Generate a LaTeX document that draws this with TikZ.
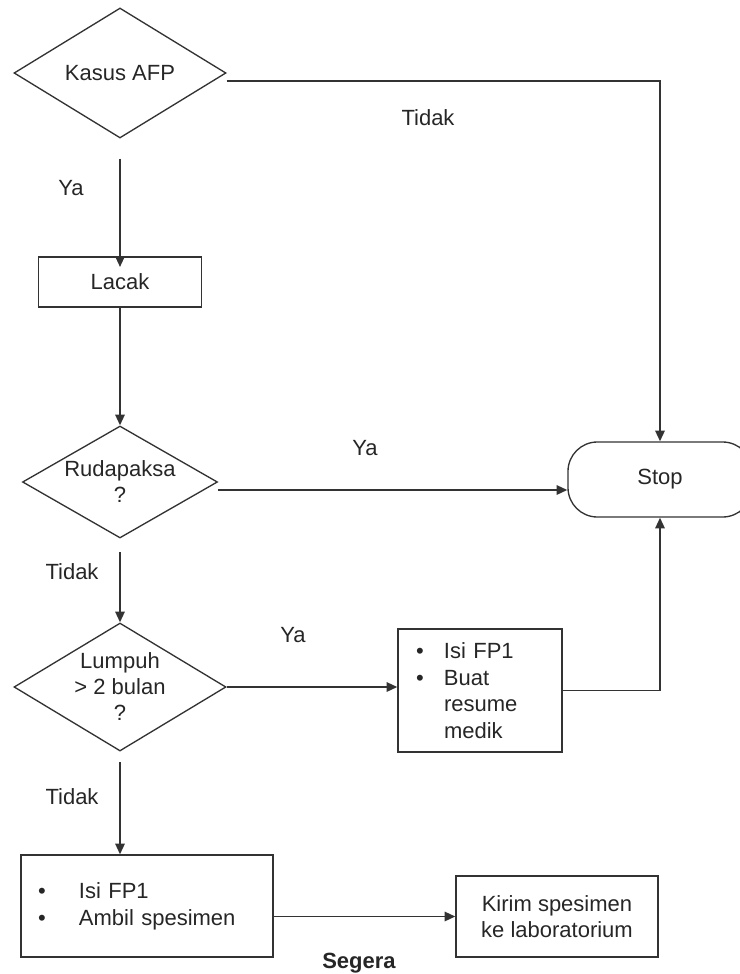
\documentclass[tikz,border=0pt]{standalone}
\usepackage{fontspec}
\setmainfont{Liberation Sans}
\usetikzlibrary{arrows.meta,positioning,shapes}

\begin{document}
\begin{tikzpicture}[x=0.75pt,y=-0.75pt,
  every node/.style={font=\fontsize{16.5}{19.5}\selectfont,text=black!85},
  dec/.style={draw=black!80,line width=1pt,diamond,aspect=1.65,inner sep=0pt,align=center},
  box/.style={draw=black!80,line width=1pt,rectangle},
  lin/.style={draw=black!80,line width=1.4pt},
  arr/.style={lin,-{Triangle[length=8pt,width=7pt]}}]
\useasboundingbox (0,0) rectangle (739,974);
% decision nodes
\node[dec,minimum width=159pt,minimum height=97.5pt] (kasus) at (120,73) {Kasus AFP};
\node[box,minimum width=122.25pt,minimum height=37.5pt] (lacak) at (120,282) {Lacak};
\node[dec,minimum width=146.25pt,minimum height=84pt] (ruda) at (120,482) {Rudapaksa\\?};
\node[dec,minimum width=159pt,minimum height=96pt] (lumpuh) at (120,687) {Lumpuh\\> 2 bulan\\?};
\node[draw=black!80,line width=1pt,rounded corners=22pt,minimum width=138pt,minimum height=56.25pt] (stop) at (660,479.5) {Stop};
% boxes
\node[box,font=\fontsize{16.5}{20}\selectfont,minimum height=92.25pt,text width=96pt,inner xsep=13.5pt,align=left] (resume) at (480,690.5)
  {\makebox[21pt][l]{\textbullet}Isi FP1\\\makebox[21pt][l]{\textbullet}Buat\\\hspace*{21pt}resume\\\hspace*{21pt}medik};
\node[box,font=\fontsize{16.5}{20}\selectfont,minimum height=76.5pt,text width=163.5pt,inner xsep=12.75pt,align=left] (ambil) at (147,906)
  {\makebox[30.75pt][l]{\textbullet}Isi FP1\\\makebox[30.75pt][l]{\textbullet}Ambil spesimen};
\node[box,minimum width=151.5pt,minimum height=60.75pt,align=center] (kirim) at (557,916.5) {Kirim spesimen\\ke laboratorium};
% labels
\node (t1) at (428,118) {Tidak};
\node (y1) at (71,188) {Ya};
\node (y2) at (365,448) {Ya};
\node (t2) at (72,572) {Tidak};
\node (y3) at (293,635) {Ya};
\node (t3) at (72,797) {Tidak};
\node[font=\fontsize{16.5}{19.5}\selectfont\bfseries] (segera) at (359,963) {Segera};
% connectors
\draw[arr] ([yshift=-6pt]kasus.east) -| (stop.north);
\draw[arr,shorten <=15pt,shorten >=-8pt] (kasus) -- (lacak);
\draw[arr] (lacak) -- (ruda);
\draw[arr] ([yshift=-6pt]ruda.east) -- ([yshift=-6pt]ruda.east -| stop.west);
\draw[arr,shorten <=10pt] (ruda) -- (lumpuh);
\draw[arr] (lumpuh.east) -- (lumpuh.east -| resume.west);
\draw[arr] (resume.east) -| (stop.south);
\draw[arr,shorten <=8pt] (lumpuh.south) -- (lumpuh.south |- ambil.north);
\draw[arr] (ambil.east |- kirim.west) -- (kirim.west);
\end{tikzpicture}
\end{document}
